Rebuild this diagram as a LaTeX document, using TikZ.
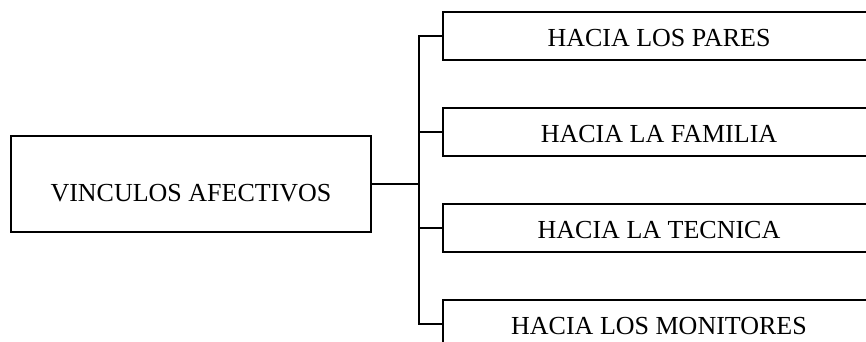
\documentclass[tikz,border=0pt]{standalone}
\usepackage{fontspec}
\setmainfont{Liberation Serif}
\begin{document}
\begin{tikzpicture}[x=1pt,y=-1pt]
\tikzstyle{every node}+=[font=\fontsize{26}{30}\selectfont]
\tikzstyle{mainbox}=[draw,line width=1.6pt,minimum width=360pt,minimum height=96pt,inner sep=0pt,text height=36pt,text depth=0.8pt]
\tikzstyle{subbox}=[draw,line width=1.6pt,minimum width=432pt,minimum height=48pt,inner sep=0pt,text height=21pt,text depth=0.4pt]
\useasboundingbox (0,0) rectangle (866,342);
\clip (0,0) rectangle (866,342);
\node[mainbox] (vinc) at (191,184) {VINCULOS AFECTIVOS};
\node[subbox] (pares) at (659,36) {HACIA LOS PARES};
\node[subbox] (familia) at (659,132) {HACIA LA FAMILIA};
\node[subbox] (tecnica) at (659,228) {HACIA LA TECNICA};
\node[subbox] (monitores) at (659,324) {HACIA LOS MONITORES};
\coordinate (bus) at (419,184);
\draw[line width=1.6pt] (vinc.east) -- (bus);
\foreach \b in {pares,familia,tecnica,monitores}
  \draw[line width=1.6pt] (bus) |- (\b.west);
\end{tikzpicture}
\end{document}
